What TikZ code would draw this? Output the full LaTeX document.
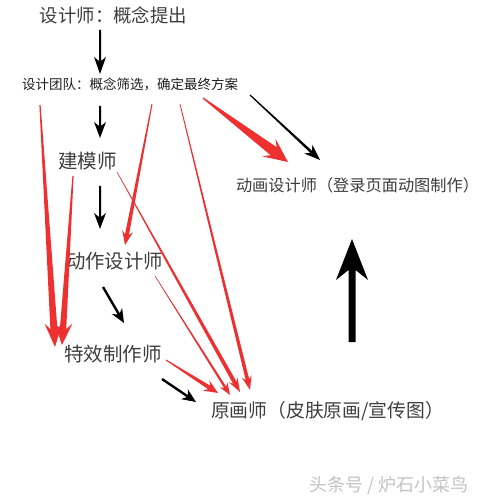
\documentclass[tikz,border=0pt]{standalone}
\usepackage{fontspec}
\newfontfamily\cjk{Noto Sans CJK SC}
\usetikzlibrary{calc}
\definecolor{arrowred}{RGB}{238,48,48}
\definecolor{txt}{RGB}{62,62,62}
\definecolor{txtdark}{RGB}{30,30,30}
\definecolor{wm}{RGB}{195,195,195}
% #1 start, #2 tip, #3 half width at start, #4 half width at shaft end,
% #5 head length, #6 head half width, #7 notch depth, #8 colour
\newcommand\tarrow[8]{%
  \pgfmathsetmacro\tnL{#5-#7}%
  \coordinate (tC) at ($(#2)!#5pt!(#1)$);
  \coordinate (tN) at ($(#2)!\tnL pt!(#1)$);
  \fill[#8] ($(#1)!#3pt!90:(#2)$) -- ($(tN)!#4pt!90:(#2)$) -- ($(tC)!#6pt!90:(#2)$)
    -- (#2) -- ($(tC)!#6pt!-90:(#2)$) -- ($(tN)!#4pt!-90:(#2)$)
    -- ($(#1)!#3pt!-90:(#2)$) -- cycle;
}
\begin{document}
\begin{tikzpicture}[x=1pt,y=-1pt,
  lbl/.style={inner sep=0pt, text=txt, font=\cjk\fontsize{#1}{#1}\selectfont}]
\useasboundingbox (0,0) rectangle (486,502);
\fill[white] (0,0) rectangle (486,502);

% labels
\node[lbl=18.4] (designer) at (113.5,15) {设计师：概念提出};
\node[lbl=13.5, text=txtdark] (team) at (130,84) {设计团队：概念筛选，确定最终方案};
\node[lbl=19.5] (model) at (87.5,161) {建模师};
\node[lbl=19.4] (motion) at (114.5,261) {动作设计师};
\node[lbl=19.5] (fx) at (113,354) {特效制作师};
\node[lbl=18.8] (orig) at (327.5,411) {原画师（皮肤原画/宣传图）};
\node[lbl=16.2] (anim) at (357.5,185) {动画设计师（登录页面动图制作）};
\node[inner sep=0pt, text=wm, font=\cjk\fontsize{18}{18}\selectfont] (mark) at (389,486) {头条号 / 炉石小菜鸟};

% connector end points
\coordinate (b1s) at (100,30);  \coordinate (b1e) at (100,74);
\coordinate (b2s) at (100,106); \coordinate (b2e) at (100,138);
\coordinate (b3s) at (100,186); \coordinate (b3e) at (100,229);
\coordinate (b4s) at (103,287); \coordinate (b4e) at (124,323);
\coordinate (b5s) at (162,379); \coordinate (b5e) at (196,402);
\coordinate (b6s) at (250,95);  \coordinate (b6e) at (320,160);
\coordinate (b7s) at (352,342); \coordinate (b7e) at (352,239);

\coordinate (r1s) at (40,105);  \coordinate (r1e) at (55,347);
\coordinate (r2s) at (73,176);  \coordinate (r2e) at (62,345);
\coordinate (r3s) at (152,104); \coordinate (r3e) at (125,245);
\coordinate (r4s) at (180,104); \coordinate (r4e) at (250,390);
\coordinate (r5s) at (117,172); \coordinate (r5e) at (240,392);
\coordinate (r6s) at (155,276); \coordinate (r6e) at (230,395);
\coordinate (r7s) at (166,360); \coordinate (r7e) at (218,393);
\coordinate (r8s) at (203,98);  \coordinate (r8e) at (288,162);

% red connectors
\tarrow{r1s}{r1e}{0.6}{3.5}{24}{9}{6}{arrowred}
\tarrow{r2s}{r2e}{0.6}{3.2}{22}{9}{6}{arrowred}
\tarrow{r3s}{r3e}{0.5}{2}{14}{5.5}{3.5}{arrowred}
\tarrow{r4s}{r4e}{0.4}{1.8}{14}{5}{3.5}{arrowred}
\tarrow{r5s}{r5e}{0.3}{2}{14}{5}{3.5}{arrowred}
\tarrow{r6s}{r6e}{0.3}{1.2}{12}{4.5}{3}{arrowred}
\tarrow{r7s}{r7e}{0.5}{2}{14}{6}{3.5}{arrowred}
\tarrow{r8s}{r8e}{0.6}{5}{24}{11}{6}{arrowred}

% black connectors
\tarrow{b1s}{b1e}{1}{1}{17}{6}{4}{black}
\tarrow{b2s}{b2e}{1}{1}{16}{6}{4}{black}
\tarrow{b3s}{b3e}{1}{1}{16}{6}{4}{black}
\tarrow{b4s}{b4e}{1.2}{1.2}{14}{6}{3.5}{black}
\tarrow{b5s}{b5e}{1.2}{1.2}{14}{6}{3.5}{black}
\tarrow{b6s}{b6e}{0.6}{1.3}{16}{6}{4}{black}
\tarrow{b7s}{b7e}{3.5}{3.5}{41}{16}{10}{black}
\end{tikzpicture}
\end{document}
